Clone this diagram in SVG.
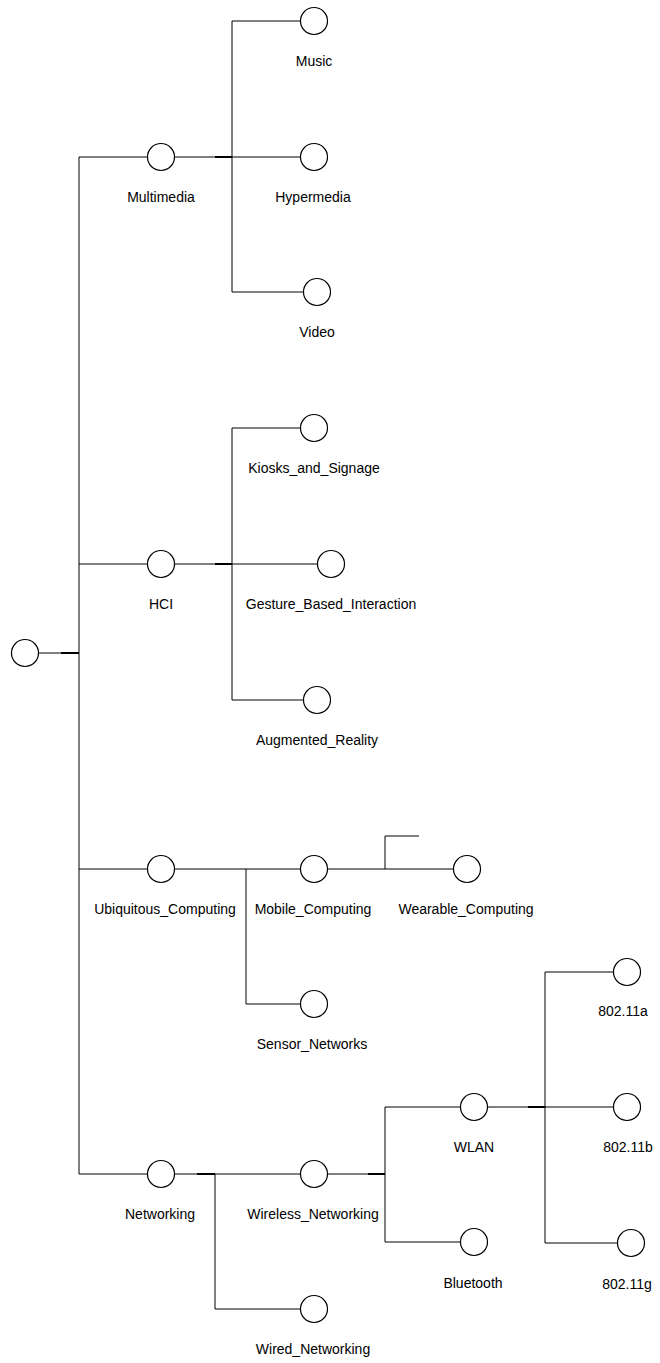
<svg xmlns="http://www.w3.org/2000/svg" width="660" height="1363" viewBox="0 0 660 1363">
  <style>
    .edge { fill: none; stroke: #000; stroke-width: 1; }
    .stub { fill: none; stroke: #000; stroke-width: 2; }
    .node circle { fill: #fff; stroke: #000; stroke-width: 1.2; }
    .node text { font-family: "Liberation Sans", Arial, sans-serif; font-size: 14px; fill: #000; text-anchor: middle; }
  </style>
  <rect width="660" height="1363" fill="#fff"/>

  <!-- connectors -->
  <g id="connectors">
    <!-- root to trunk -->
    <path class="edge" d="M38,653 H79"/>
    <path class="stub" d="M61,653 H79"/>
    <path class="edge" d="M79,157 V1174"/>
    <path class="edge" d="M79,157 H148 M79,564 H148 M79,869 H148 M79,1174 H148"/>

    <!-- Multimedia -->
    <path class="edge" d="M175,157 H300"/>
    <path class="stub" d="M215,157 H232"/>
    <path class="edge" d="M232,21 V292"/>
    <path class="edge" d="M232,21 H300 M232,292 H304"/>

    <!-- HCI -->
    <path class="edge" d="M175,564 H318"/>
    <path class="stub" d="M215,564 H232"/>
    <path class="edge" d="M232,428 V700"/>
    <path class="edge" d="M232,428 H301 M232,700 H304"/>

    <!-- Ubiquitous_Computing -->
    <path class="edge" d="M175,869 H300"/>
    <path class="edge" d="M246,869 V1004 H301"/>
    <path class="edge" d="M327,869 H453"/>
    <path class="edge" d="M385,869 V836 H419"/>

    <!-- Networking -->
    <path class="edge" d="M175,1174 H301"/>
    <path class="stub" d="M197,1174 H215"/>
    <path class="edge" d="M215,1174 V1309 H301"/>
    <path class="edge" d="M327,1174 H385"/>
    <path class="stub" d="M368,1174 H385"/>
    <path class="edge" d="M385,1107 V1242"/>
    <path class="edge" d="M385,1107 H461 M385,1242 H461"/>

    <!-- WLAN -->
    <path class="edge" d="M488,1107 H614"/>
    <path class="stub" d="M528,1107 H545"/>
    <path class="edge" d="M545,972 V1243"/>
    <path class="edge" d="M545,972 H614 M545,1243 H618"/>
  </g>

  <!-- nodes -->
  <g id="root" class="node"><circle cx="25" cy="653" r="13.5"/></g>

  <g id="multimedia" class="node"><circle cx="161" cy="157" r="13.5"/><text x="161" y="202">Multimedia</text></g>
  <g id="music" class="node"><circle cx="314" cy="21" r="13.5"/><text x="314" y="66">Music</text></g>
  <g id="hypermedia" class="node"><circle cx="314" cy="157" r="13.5"/><text x="313" y="202">Hypermedia</text></g>
  <g id="video" class="node"><circle cx="317" cy="292" r="13.5"/><text x="317" y="337">Video</text></g>

  <g id="hci" class="node"><circle cx="161" cy="564" r="13.5"/><text x="161" y="609">HCI</text></g>
  <g id="kiosks" class="node"><circle cx="314" cy="428" r="13.5"/><text x="314" y="473">Kiosks_and_Signage</text></g>
  <g id="gesture" class="node"><circle cx="331" cy="564" r="13.5"/><text x="331" y="609">Gesture_Based_Interaction</text></g>
  <g id="augmented" class="node"><circle cx="317" cy="700" r="13.5"/><text x="317" y="745">Augmented_Reality</text></g>

  <g id="ubiquitous" class="node"><circle cx="161" cy="869" r="13.5"/><text x="165" y="914">Ubiquitous_Computing</text></g>
  <g id="mobile" class="node"><circle cx="314" cy="869" r="13.5"/><text x="313" y="914">Mobile_Computing</text></g>
  <g id="wearable" class="node"><circle cx="467" cy="869" r="13.5"/><text x="466" y="914">Wearable_Computing</text></g>
  <g id="sensor" class="node"><circle cx="314" cy="1004" r="13.5"/><text x="312" y="1049">Sensor_Networks</text></g>

  <g id="networking" class="node"><circle cx="161" cy="1174" r="13.5"/><text x="160" y="1219">Networking</text></g>
  <g id="wireless" class="node"><circle cx="314" cy="1174" r="13.5"/><text x="313" y="1219">Wireless_Networking</text></g>
  <g id="wired" class="node"><circle cx="314" cy="1309" r="13.5"/><text x="313" y="1354">Wired_Networking</text></g>
  <g id="wlan" class="node"><circle cx="474" cy="1107" r="13.5"/><text x="474" y="1152">WLAN</text></g>
  <g id="bluetooth" class="node"><circle cx="474" cy="1242" r="13.5"/><text x="473" y="1288">Bluetooth</text></g>
  <g id="n80211a" class="node"><circle cx="627" cy="972" r="13.5"/><text x="623" y="1016">802.11a</text></g>
  <g id="n80211b" class="node"><circle cx="627" cy="1107" r="13.5"/><text x="628" y="1152">802.11b</text></g>
  <g id="n80211g" class="node"><circle cx="631" cy="1243" r="13.5"/><text x="627" y="1289">802.11g</text></g>
</svg>
